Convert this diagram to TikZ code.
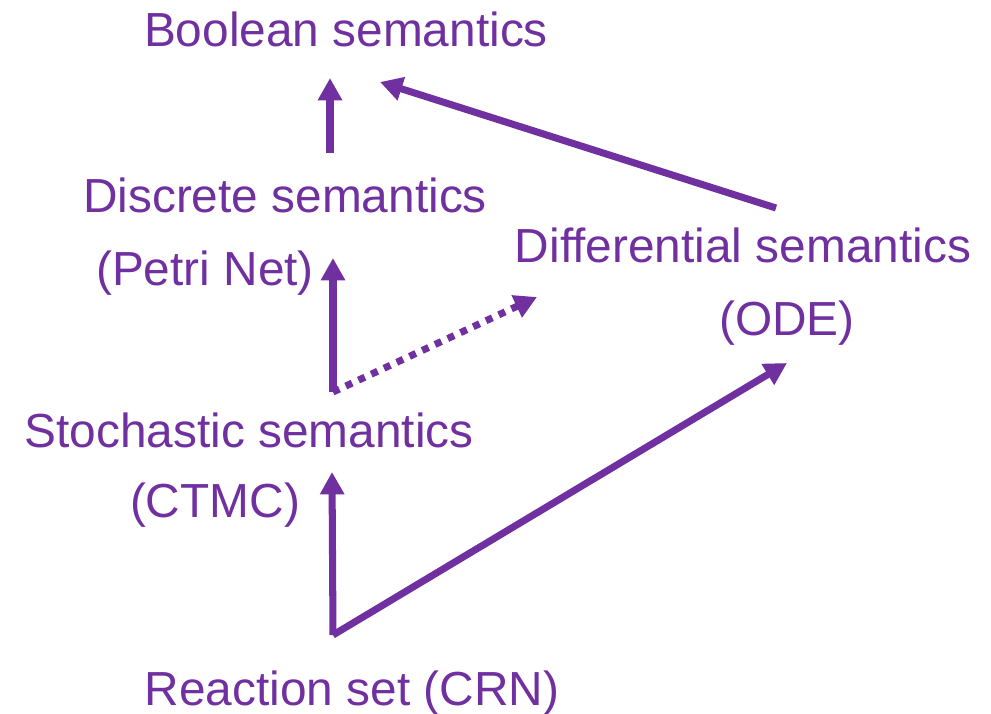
\documentclass[tikz,border=0pt]{standalone}
\usepackage{fontspec}
\setmainfont{Liberation Sans}
\usetikzlibrary{arrows.meta}
\definecolor{sempurple}{HTML}{7030A0}
\tikzset{%
	semtext/.style  = {text=sempurple, anchor=base, inner sep=0pt, font=\fontsize{34}{40}\selectfont},
	semarrow/.style = {draw=sempurple, line width=5pt, -{Triangle[length=0.56cm,width=0.58cm]}},
	dotarrow/.style = {semarrow, dash pattern=on 5pt off 5pt},
}
\begin{document}
\begin{tikzpicture}[x=0.025cm,y=-0.025cm]
	\useasboundingbox (0,0) rectangle (991,713);
	\node [semtext] (bool) at (346,46) {Boolean semantics};
	\node [semtext] (disc) at (285,212) {Discrete semantics};
	\node [semtext] (petri) at (205,285) {(Petri Net)};
	\node [semtext] (diff) at (743,262) {Differential semantics};
	\node [semtext] (ode) at (787,335) {(ODE)};
	\node [semtext] (stoch) at (249,447) {Stochastic semantics};
	\node [semtext] (ctmc) at (215,517) {(CTMC)};
	\node [semtext] (crn) at (352,705) {Reaction set (CRN)};
	% arrow ends
	\coordinate (boolin) at (330,78);
	\coordinate (boolin2) at (380,82);
	\coordinate (discout) at (330,153);
	\coordinate (diffout) at (776,208);
	\coordinate (petriin) at (333,258);
	\coordinate (diffin) at (537,297);
	\coordinate (stochout) at (333,392);
	\coordinate (odein) at (787,363);
	\coordinate (ctmcin) at (332,472);
	\coordinate (crnout) at (333,635);
	\draw [semarrow] (discout) -- (boolin);
	\draw [semarrow] (diffout) -- (boolin2);
	\draw [semarrow] (stochout) -- (petriin);
	\draw [dotarrow] (stochout) -- (diffin);
	\draw [semarrow] (crnout) -- (ctmcin);
	\draw [semarrow] (crnout) -- (odein);
\end{tikzpicture}
\end{document}
